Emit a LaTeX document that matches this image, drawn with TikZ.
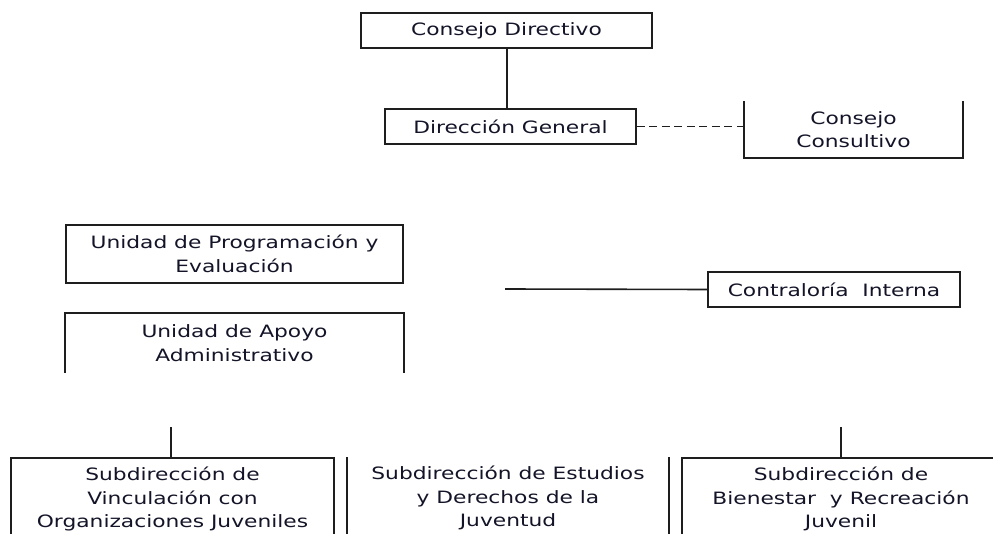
\documentclass[tikz,border=0pt]{standalone}
\usepackage{fontspec}
\setmainfont[FakeStretch=1.28]{DejaVu Sans}
\definecolor{boxc}{RGB}{30,30,30}
\definecolor{txtc}{RGB}{20,20,40}
\begin{document}
\begin{tikzpicture}[x=1pt,y=-1pt,
  box/.style={draw=boxc, line width=1.6pt, align=center, inner sep=0pt, text=txtc,
    font=\fontsize{17}{23.5}\selectfont},
  openbox/.style={box, draw=none},
  ln/.style={draw=boxc, line width=1.6pt}]
\useasboundingbox (0,0) rectangle (993,534);
\fill[white] (0,0) rectangle (993,534);
\clip (0,0) rectangle (993,534);

\node[box, minimum width=291pt, minimum height=35pt] (cd) at (506.5,30.5) {Consejo Directivo};
\node[box, minimum width=251pt, minimum height=35pt] (dg) at (510.5,126.5) {Dirección General};
\node[openbox, minimum width=217pt, minimum height=55pt] (cc) at (853.5,129.5) {Consejo\\Consultivo};
\draw[ln] (cc.north west) -- (cc.south west) -- (cc.south east) -- (cc.north east);

\node[box, minimum width=337pt, minimum height=58pt] (up) at (234.5,254) {Unidad de Programación y\\Evaluación};
\node[openbox, minimum width=337pt, minimum height=58pt] (ua) at (234.5,343) {Unidad de Apoyo\\Administrativo};
\draw[ln] (ua.south west) -- (ua.north west) -- (ua.north east) -- (ua.south east);

\node[box, minimum width=252pt, minimum height=35pt] (ci) at (834,289.5) {Contraloría\ \ Interna};

\node[openbox, minimum width=321pt, minimum height=80pt] (sv) at (172.5,499) {Subdirección de\\Vinculación con\\Organizaciones Juveniles};
\draw[ln] (sv.south west) -- (sv.north west) -- (sv.north east) -- (sv.south east);
\node[openbox, minimum width=320pt, minimum height=80pt] (se) at (508,498) {Subdirección de Estudios\\y Derechos de la\\Juventud};
\draw[ln] (se.north west) -- (se.south west);
\draw[ln] (se.north east) -- (se.south east);
\node[openbox, minimum width=316pt, minimum height=80pt] (sb) at (841,499) {Subdirección de\\Bienestar\ \ y Recreación\\Juvenil};
\draw[ln] (sb.south west) -- (sb.north west) -- (sb.north east) -- (sb.south east);

\draw[ln] (cd.south -| 507,0) -- (dg.north -| 507,0);
\draw[ln, dash pattern=on 8pt off 4.5pt] (dg.east) -- (dg.east -| cc.west);
\coordinate (lc) at (505,289);
\draw[ln] (lc) -- (ci.west);
\coordinate (t1) at (171,427);
\draw[ln] (t1) -- (t1 |- sv.north);
\coordinate (t3) at (841,427);
\draw[ln] (t3) -- (sb.north);
\end{tikzpicture}
\end{document}
